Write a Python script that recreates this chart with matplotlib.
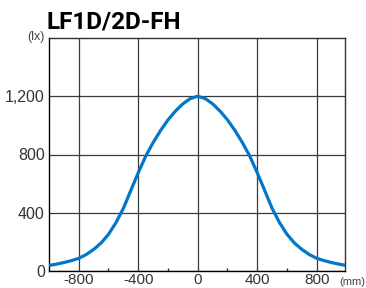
import numpy as np
import matplotlib
matplotlib.use("Agg")
import matplotlib.pyplot as plt

# illuminance distribution (mm -> lx)
distance_mm = [-1000, -950, -900, -850, -800, -750, -700, -650, -600, -550, -500,
               -450, -400, -350, -300, -250, -200, -150, -100, -50, 0,
               50, 100, 150, 200, 250, 300, 350, 400, 450, 500,
               550, 600, 650, 700, 750, 800, 850, 900, 950, 1000]
illuminance_lx = [38, 47, 58, 71, 87, 113, 148, 192, 252, 332, 430,
                  553, 675, 788, 882, 965, 1038, 1098, 1148, 1184, 1200,
                  1184, 1148, 1098, 1038, 965, 882, 788, 675, 553, 430,
                  332, 252, 192, 148, 113, 87, 71, 58, 47, 38]

x_ticks = [-800, -400, 0, 400, 800]
x_labels = ['-800', '-400', '0', '400', '800']
y_ticks = [0, 400, 800, 1200]
y_labels = ['0', '400', '800', '1,200']

plt.rcParams['font.family'] = ['Liberation Sans', 'DejaVu Sans']

fig = plt.figure(figsize=(3.66, 2.88), dpi=100)
ax = fig.add_axes([49/366, 17/288, 296/366, 233/288])

ax.plot(distance_mm, illuminance_lx, color='#0077c8', linewidth=2.3,
        solid_capstyle='butt', solid_joinstyle='round', zorder=3)

ax.set_xlim(-1000, 990)
ax.set_ylim(0, 1600)
ax.set_xticks(x_ticks)
ax.set_xticklabels(x_labels)
ax.set_yticks(y_ticks)
ax.set_yticklabels(y_labels)
ax.set_xticks([-600, -200, 200, 600], minor=True)
ax.tick_params(axis='y', which='major', length=0, labelsize=11.5,
               labelcolor='#333333', pad=3)
ax.tick_params(axis='x', which='major', length=0, labelsize=11,
               labelcolor='#333333', pad=1.5)
ax.tick_params(axis='x', which='minor', direction='in', length=2, width=1,
               color='#333333')
ax.grid(True, which='major', color='#3a3a3a', linewidth=0.9)
for s in ax.spines.values():
    s.set_color('#333333')
    s.set_linewidth(1)
ax.spines['left'].set_color('black')
ax.spines['bottom'].set_color('black')

fig.text(47/366, 1 - 22/288, 'LF1D/2D-FH', fontsize=17.5, fontweight='bold',
         family=['Roboto', 'Liberation Sans'],
         ha='left', va='center', color='black')
fig.text(45/366, 1 - 37/288, '(lx)', fontsize=9, ha='right', va='center',
         color='#444444')
fig.text(365/366, 1 - 282/288, '(mm)', fontsize=8, ha='right', va='center',
         color='#444444')

fig.savefig('out.png', dpi=100)
